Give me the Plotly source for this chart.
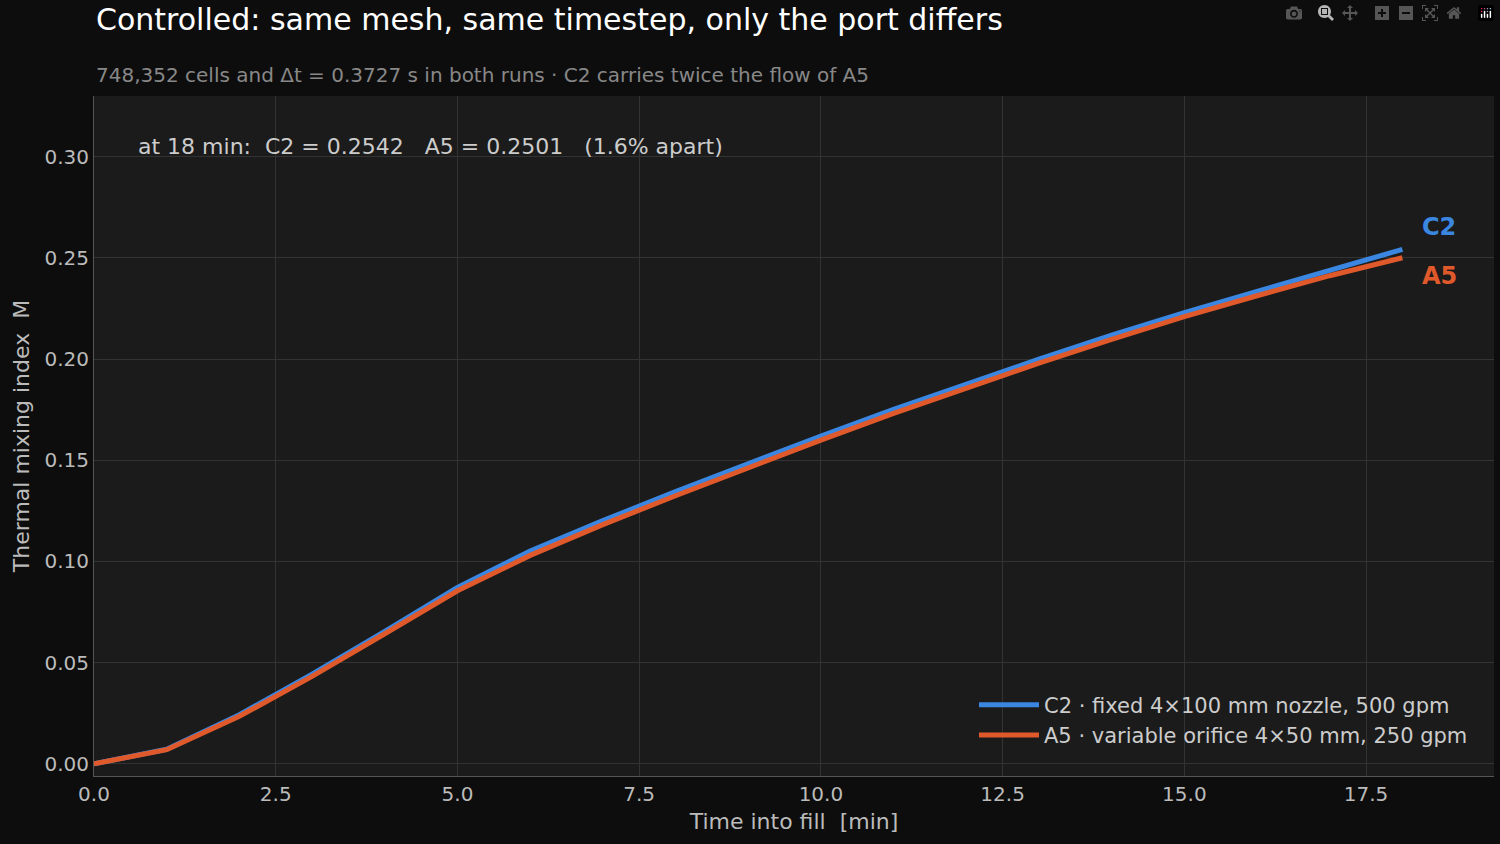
import plotly.graph_objects as go

minutes = list(range(19))
c2 = [0.0, 0.0072, 0.0243, 0.0443, 0.0655, 0.0872, 0.1052, 0.1202, 0.1345, 0.1485, 0.1620, 0.1752, 0.1878, 0.2000, 0.2118, 0.2230, 0.2335, 0.2440, 0.2542]
a5 = [0.0, 0.0070, 0.0235, 0.0432, 0.0643, 0.0855, 0.1030, 0.1182, 0.1325, 0.1465, 0.1600, 0.1732, 0.1858, 0.1980, 0.2098, 0.2210, 0.2313, 0.2412, 0.2501]
names = ["C2 · fixed 4×100 mm nozzle, 500 gpm", "A5 · variable orifice 4×50 mm, 250 gpm"]
colors = ["#3a86e0", "#e0592a"]

fig = go.Figure()
for y, n, c in zip([c2, a5], names, colors):
    fig.add_trace(go.Scatter(x=minutes, y=y, mode="lines", name=n, line=dict(color=c, width=5)))

H = 680.0
def py(pix):  # pixel from top -> paper y
    return (776 - pix) / H

fig.add_annotation(x=18, y=c2[-1], text="<b>C2</b>", showarrow=False, xanchor="left", xshift=18, yshift=22,
                   font=dict(color=colors[0], size=24))
fig.add_annotation(x=18, y=a5[-1], text="<b>A5</b>", showarrow=False, xanchor="left", xshift=18, yshift=-18,
                   font=dict(color=colors[1], size=24))
fig.add_annotation(xref="paper", yref="paper", x=0.03, y=py(147), yanchor="middle",
                   text="at 18 min:  C2 = 0.2542   A5 = 0.2501   (1.6% apart)",
                   showarrow=False, xanchor="left", font=dict(color="#cccccc", size=22))
fig.add_annotation(xref="paper", yref="paper", x=0, y=py(20), yanchor="middle", xanchor="left",
                   text="Controlled: same mesh, same timestep, only the port differs",
                   showarrow=False, font=dict(color="#ffffff", size=30))
fig.add_annotation(xref="paper", yref="paper", x=0, y=py(75), yanchor="middle", xanchor="left",
                   text="748,352 cells and Δt = 0.3727 s in both runs · C2 carries twice the flow of A5",
                   showarrow=False, font=dict(color="#888888", size=20))

fig.update_layout(
    width=1500, height=844,
    paper_bgcolor="#0d0d0d", plot_bgcolor="#1b1b1b",
    font=dict(family="DejaVu Sans", color="#bbbbbb", size=20),
    margin=dict(l=94, r=6, t=96, b=68),
    legend=dict(x=0.985, y=0.03, xanchor="right", yanchor="bottom", bgcolor="rgba(0,0,0,0)",
                font=dict(size=21, color="#cccccc"), itemwidth=60, tracegroupgap=6),
    xaxis=dict(range=[0, 19.26], dtick=2.5, tickformat=".1f", gridcolor="#333333", zeroline=False,
               showline=True, linecolor="#555555", title=dict(text="Time into fill  [min]", font=dict(size=22), standoff=8), ticks=""),
    yaxis=dict(range=[-0.006, 0.330], dtick=0.05, tickformat=".2f", gridcolor="#333333", zeroline=False,
               showline=True, linecolor="#555555", title=dict(text="Thermal mixing index  M", font=dict(size=22), standoff=8), ticks=""),
)
html = fig.to_html(include_plotlyjs=True, full_html=True)
html = html.replace("<body>", "<body style='margin:0;background:#0d0d0d'>", 1)
with open("out.html", "w", encoding="utf-8") as f:
    f.write(html)
